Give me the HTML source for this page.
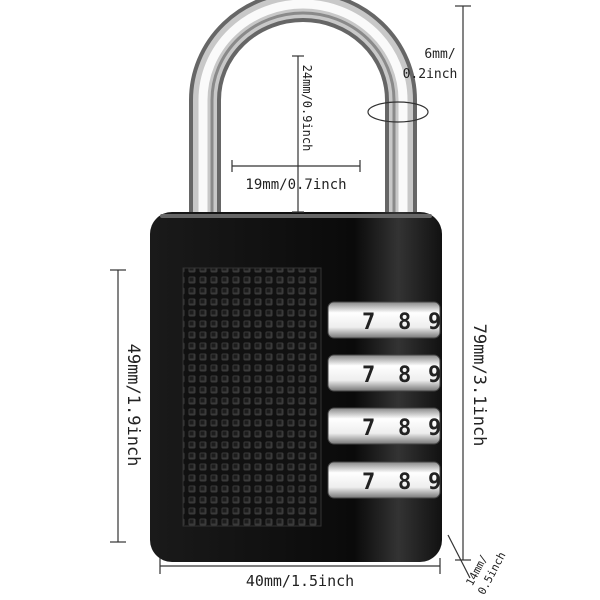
<!DOCTYPE html>
<html><head><meta charset="utf-8"><style>
html,body{margin:0;padding:0;background:#fff;}
svg{display:block}
text{font-family:"DejaVu Sans Mono","Liberation Mono",monospace;fill:#222}
</style></head><body>
<svg width="600" height="600" viewBox="0 0 600 600" xmlns="http://www.w3.org/2000/svg">
<defs>
<linearGradient id="body" x1="0" x2="1">
<stop offset="0" stop-color="#1a1a1a"/><stop offset="0.7" stop-color="#0a0a0a"/><stop offset="0.85" stop-color="#333"/><stop offset="1" stop-color="#111"/>
</linearGradient>
<linearGradient id="dial" x1="0" x2="0" y1="0" y2="1">
<stop offset="0" stop-color="#888"/><stop offset="0.3" stop-color="#fff"/><stop offset="0.7" stop-color="#eee"/><stop offset="1" stop-color="#777"/>
</linearGradient>
<pattern id="grid" width="11" height="11" patternUnits="userSpaceOnUse">
<rect width="11" height="11" fill="#111"/>
<rect x="1.5" y="1.5" width="7" height="7" rx="1.5" fill="#3a3a3a"/>
<rect x="2.5" y="2.5" width="4" height="4" fill="#1c1c1c"/>
</pattern>
</defs>
<!-- shackle -->
<path d="M205 220 V100 A98 94 0 0 1 401 100 V220" fill="none" stroke="#666" stroke-width="32"/>
<path d="M205 220 V100 A98 94 0 0 1 401 100 V220" fill="none" stroke="#c8c8c8" stroke-width="24"/>
<path d="M203 220 V100 A100 96 0 0 1 403 100 V220" fill="none" stroke="#fafafa" stroke-width="9"/>
<path d="M212 220 V100 A91 87 0 0 1 394 100 V220" fill="none" stroke="#8a8a8a" stroke-width="3"/>
<!-- body -->
<rect x="150" y="212" width="292" height="350" rx="22" fill="url(#body)"/>
<rect x="160" y="214" width="272" height="4" rx="2" fill="#666"/>
<rect x="183" y="268" width="138" height="258" fill="url(#grid)" stroke="#333"/>
<!-- dials -->
<g font-size="22" font-weight="bold">
<g transform="translate(0,302)"><rect x="328" y="0" width="112" height="36" rx="6" fill="url(#dial)" stroke="#444"/><text x="362" y="27">7</text><text x="398" y="27">8</text><text x="428" y="27">9</text></g>
<g transform="translate(0,355)"><rect x="328" y="0" width="112" height="36" rx="6" fill="url(#dial)" stroke="#444"/><text x="362" y="27">7</text><text x="398" y="27">8</text><text x="428" y="27">9</text></g>
<g transform="translate(0,408)"><rect x="328" y="0" width="112" height="36" rx="6" fill="url(#dial)" stroke="#444"/><text x="362" y="27">7</text><text x="398" y="27">8</text><text x="428" y="27">9</text></g>
<g transform="translate(0,462)"><rect x="328" y="0" width="112" height="36" rx="6" fill="url(#dial)" stroke="#444"/><text x="362" y="27">7</text><text x="398" y="27">8</text><text x="428" y="27">9</text></g>
</g>
<!-- dimension lines -->
<g stroke="#333" stroke-width="1.2" fill="none">
<line x1="118" y1="270" x2="118" y2="542"/><line x1="110" y1="270" x2="126" y2="270"/><line x1="110" y1="542" x2="126" y2="542"/>
<line x1="160" y1="566" x2="440" y2="566"/><line x1="160" y1="558" x2="160" y2="574"/><line x1="440" y1="558" x2="440" y2="574"/>
<line x1="463" y1="6" x2="463" y2="560"/><line x1="455" y1="6" x2="471" y2="6"/><line x1="455" y1="560" x2="471" y2="560"/>
<line x1="298" y1="56" x2="298" y2="212"/><line x1="292" y1="56" x2="304" y2="56"/><line x1="292" y1="212" x2="304" y2="212"/>
<line x1="232" y1="166" x2="360" y2="166"/><line x1="232" y1="160" x2="232" y2="172"/><line x1="360" y1="160" x2="360" y2="172"/>
<ellipse cx="398" cy="112" rx="30" ry="10"/>
<line x1="448" y1="535" x2="470" y2="578"/>
</g>
<g font-size="15">
<text transform="translate(128,405) rotate(90)" text-anchor="middle" font-size="17">49mm/1.9inch</text>
<text x="300" y="586" text-anchor="middle" font-size="15">40mm/1.5inch</text>
<text transform="translate(474,385) rotate(90)" text-anchor="middle" font-size="17">79mm/3.1inch</text>
<text transform="translate(303,108) rotate(90)" text-anchor="middle" font-size="12">24mm/0.9inch</text>
<text x="296" y="189" text-anchor="middle" font-size="14">19mm/0.7inch</text>
<text x="440" y="58" text-anchor="middle" font-size="13">6mm/</text>
<text x="430" y="78" text-anchor="middle" font-size="13">0.2inch</text>
<text transform="translate(480,572) rotate(-62)" text-anchor="middle" font-size="11">14mm/</text>
<text transform="translate(495,575) rotate(-62)" text-anchor="middle" font-size="11">0.5inch</text>
</g>
</svg>
</body></html>
